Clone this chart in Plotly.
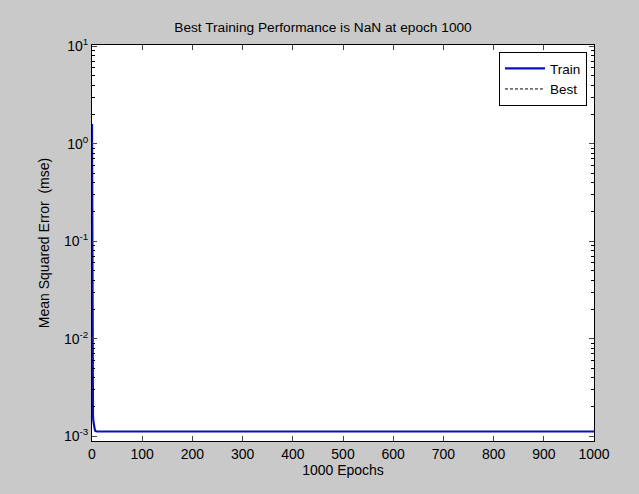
import plotly.graph_objects as go

# Data
epochs = [0, 1, 2, 3, 4, 5, 6, 7, 8, 10, 20, 50, 100, 200, 300, 400, 500, 600, 700, 800, 900, 1000]
train_mse = [1.6, 0.0045, 0.0016, 0.0014, 0.00125, 0.00118, 0.00115, 0.00113, 0.00112, 0.00112,
             0.00112, 0.00112, 0.00112, 0.00112, 0.00112, 0.00112, 0.00112, 0.00112, 0.00112,
             0.00112, 0.00112, 0.00112]
best_epochs = [None]
best_mse = [None]

x_ticks = [0, 100, 200, 300, 400, 500, 600, 700, 800, 900, 1000]
y_tickvals = [1e-3, 1e-2, 1e-1, 1e0, 1e1]
y_ticktext = ["10<sup>-3</sup>", "10<sup>-2</sup>", "10<sup>-1</sup>", "10<sup>0</sup>", "10<sup>1</sup>"]

title_text = "Best Training Performance is NaN at epoch 1000"
x_label = "1000 Epochs"
y_label = "Mean Squared Error  (mse)"

FONT = "Liberation Sans, Arial, sans-serif"
FS = 14

fig = go.Figure()
fig.add_trace(go.Scatter(x=epochs, y=train_mse, mode="lines", name="Train",
                         line=dict(color="#0a12b4", width=2.2)))
fig.add_trace(go.Scatter(x=best_epochs, y=best_mse, mode="lines", name="Best",
                         line=dict(color="black", width=1, dash="3px,2px")))

fig.update_layout(
    width=639, height=494,
    margin=dict(l=92, r=45, t=45, b=53),
    paper_bgcolor="#c9c9c9",
    plot_bgcolor="white",
    font=dict(family=FONT, size=FS, color="black"),
    title=dict(text=title_text, x=323 / 639, xanchor="center",
               y=1 - 27 / 494, yanchor="middle", font=dict(size=13.7, family=FONT)),
    showlegend=True,
    legend=dict(x=0.986, y=0.982, xanchor="right", yanchor="top",
                bgcolor="white", bordercolor="black", borderwidth=1,
                font=dict(size=13.5, family=FONT), tracegroupgap=0,
                itemwidth=40),
    xaxis=dict(range=[0, 1000], tickvals=x_ticks, ticks="inside", ticklen=5,
               showline=True, linecolor="black", linewidth=1, mirror="ticks",
               showgrid=False, zeroline=False,
               title=dict(text=x_label, standoff=2, font=dict(size=FS)),
               tickfont=dict(size=FS)),
    yaxis=dict(type="log", range=[-3.048, 1.013], tickvals=y_tickvals, ticktext=y_ticktext,
               ticks="inside", ticklen=5, showline=True, linecolor="black", linewidth=1,
               mirror="ticks", showgrid=False, zeroline=False,
               minor=dict(ticks="inside", ticklen=3, tickcolor="black", dtick="D1", showgrid=False),
               title=dict(text=y_label, standoff=11, font=dict(size=FS)),
               tickfont=dict(size=FS)),
)

fig.write_html("out.html")
